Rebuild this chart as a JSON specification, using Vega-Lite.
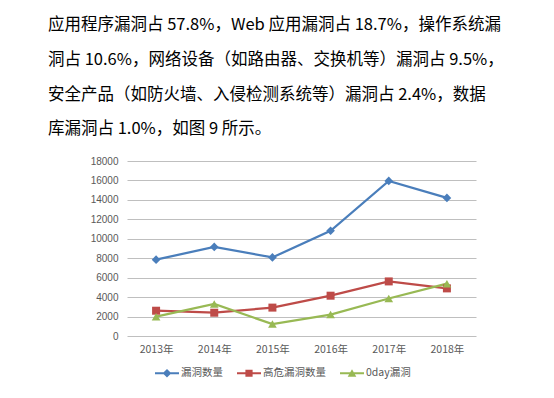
{
  "$schema": "https://vega.github.io/schema/vega-lite/v6.json",
  "width": 349,
  "height": 175,
  "autosize": {"type": "none"},
  "padding": {"left": 127, "top": 161, "right": 78, "bottom": 62},
  "background": "white",
  "config": {"view": {"stroke": null}},
  "title": {
    "text": ["应用程序漏洞占 57.8%，Web 应用漏洞占 18.7%，操作系统漏", "洞占 10.6%，网络设备（如路由器、交换机等）漏洞占 9.5%，", "安全产品（如防火墙、入侵检测系统等）漏洞占 2.4%，数据", "库漏洞占 1.0%，如图 9 所示。"],
    "anchor": "start",
    "frame": "group",
    "dx": -79,
    "offset": 18,
    "font": "Noto Sans CJK SC",
    "fontSize": 16.5,
    "fontWeight": "normal",
    "color": "#000000",
    "lineHeight": 34.7
  },
  "data": {"values": [
    {"year": "2013年", "series": "漏洞数量", "value": 7854},
    {"year": "2014年", "series": "漏洞数量", "value": 9163},
    {"year": "2015年", "series": "漏洞数量", "value": 8080},
    {"year": "2016年", "series": "漏洞数量", "value": 10822},
    {"year": "2017年", "series": "漏洞数量", "value": 15955},
    {"year": "2018年", "series": "漏洞数量", "value": 14201},
    {"year": "2013年", "series": "高危漏洞数量", "value": 2600},
    {"year": "2014年", "series": "高危漏洞数量", "value": 2394},
    {"year": "2015年", "series": "高危漏洞数量", "value": 2920},
    {"year": "2016年", "series": "高危漏洞数量", "value": 4146},
    {"year": "2017年", "series": "高危漏洞数量", "value": 5615},
    {"year": "2018年", "series": "高危漏洞数量", "value": 4898},
    {"year": "2013年", "series": "0day漏洞", "value": 1990},
    {"year": "2014年", "series": "0day漏洞", "value": 3290},
    {"year": "2015年", "series": "0day漏洞", "value": 1230},
    {"year": "2016年", "series": "0day漏洞", "value": 2203},
    {"year": "2017年", "series": "0day漏洞", "value": 3854},
    {"year": "2018年", "series": "0day漏洞", "value": 5381}
  ]},
  "encoding": {
    "x": {
      "field": "year", "type": "ordinal", "sort": null,
      "scale": {"type": "point", "padding": 0.5},
      "axis": {"title": null, "domain": false, "ticks": false, "grid": false, "labelAngle": 0, "labelPadding": 8, "labelFont": "Noto Sans CJK SC", "labelFontSize": 10.5, "labelColor": "#595959"}
    },
    "y": {
      "field": "value", "type": "quantitative",
      "scale": {"domain": [0, 18000], "nice": false},
      "axis": {"title": null, "domain": false, "ticks": false, "grid": true, "gridColor": "#BFBFBF", "gridWidth": 1, "format": "d", "values": [0, 2000, 4000, 6000, 8000, 10000, 12000, 14000, 16000, 18000], "labelFont": "Liberation Sans", "labelFontSize": 10, "labelColor": "#595959", "labelPadding": 9}
    },
    "color": {"field": "series", "type": "nominal", "scale": {"domain": ["漏洞数量", "高危漏洞数量", "0day漏洞"], "range": ["#4A7EBB", "#BE4B48", "#98B954"]},
      "legend": {"orient": "none", "legendX": 28, "legendY": 200, "direction": "horizontal", "title": null, "symbolSize": 576, "symbolOpacity": 1, "symbolStrokeWidth": 0, "labelFont": "Noto Sans CJK SC", "labelFontSize": 10.5, "labelColor": "#595959", "columnPadding": 14, "labelOffset": 2}}
  },
  "layer": [
    {
      "mark": {"type": "line", "strokeWidth": 2.25}
    },
    {
      "transform": [{"filter": "datum.series === '漏洞数量'"}],
      "mark": {"type": "point", "filled": true, "opacity": 1, "size": 75, "shape": "diamond"}
    },
    {
      "transform": [{"filter": "datum.series === '高危漏洞数量'"}],
      "mark": {"type": "point", "filled": true, "opacity": 1, "size": 64, "shape": "square"}
    },
    {
      "transform": [{"filter": "datum.series === '0day漏洞'"}],
      "mark": {"type": "point", "filled": true, "opacity": 1, "size": 75, "shape": "triangle-up"}
    },
    {
      "mark": {"type": "point", "filled": true, "opacity": 0},
      "encoding": {
        "shape": {"field": "series", "type": "nominal",
          "legend": {"orient": "none", "legendX": 28, "legendY": 200, "direction": "horizontal", "title": null, "symbolSize": 576, "symbolOpacity": 1, "symbolStrokeWidth": 0, "labelFont": "Noto Sans CJK SC", "labelFontSize": 10.5, "labelColor": "#595959", "columnPadding": 14, "labelOffset": 2},
          "scale": {"domain": ["漏洞数量", "高危漏洞数量", "0day漏洞"], "range": ["M-1,-0.09H1V0.09H-1Z M0,-0.36L0.36,0L0,0.36L-0.36,0Z", "M-1,-0.09H1V0.09H-1Z M-0.3,-0.3H0.3V0.3H-0.3Z", "M-1,-0.09H1V0.09H-1Z M0,-0.34L0.36,0.3L-0.36,0.3Z"]}}
      }
    }
  ]
}
